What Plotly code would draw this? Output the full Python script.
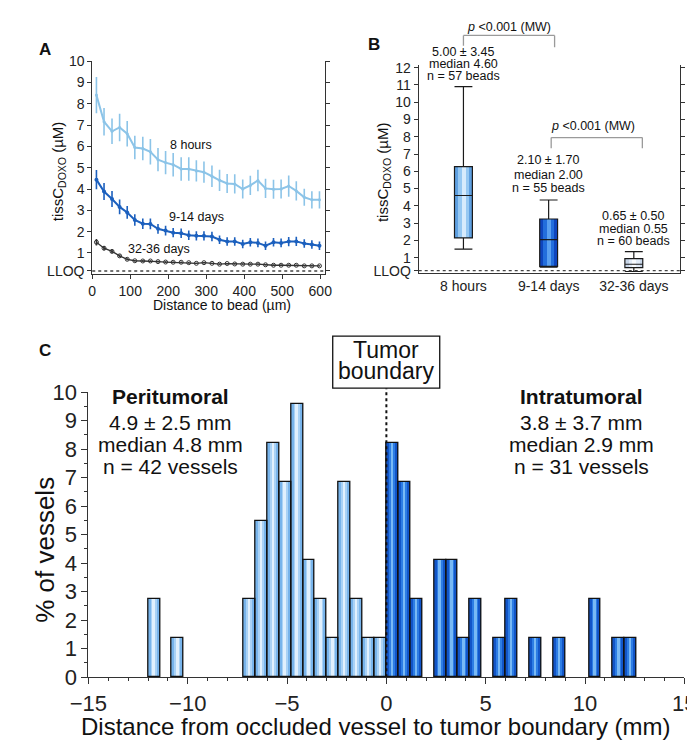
import plotly.graph_objects as go

W, H = 695, 745
FONT = "Liberation Sans, Arial, Helvetica, sans-serif"

# ---------------- Panel A data ----------------
dist_um = [11, 31, 52, 72, 92, 112, 133, 153, 173, 193, 213, 234, 254, 274, 294,
           315, 335, 355, 375, 396, 416, 436, 456, 477, 497, 517, 537, 558, 578, 598]
conc_8h = [8.41, 7.16, 6.71, 6.89, 6.6, 5.95, 5.9, 5.75, 5.38, 5.24, 5.14, 4.94, 4.94, 4.85, 4.79,
           4.6, 4.41, 4.26, 4.24, 4.0, 4.17, 4.4, 4.03, 3.99, 4.0, 4.14, 3.91, 3.61, 3.49, 3.49]
err_8h = [0.85, 0.65, 0.6, 0.65, 0.6, 0.55, 0.55, 0.6, 0.55, 0.55, 0.55, 0.55, 0.55, 0.5, 0.5,
          0.5, 0.5, 0.45, 0.45, 0.45, 0.45, 0.5, 0.45, 0.45, 0.45, 0.5, 0.45, 0.4, 0.4, 0.4]
conc_9_14d = [4.44, 3.88, 3.53, 3.16, 2.9, 2.55, 2.37, 2.36, 2.13, 2.05, 1.95, 1.92, 1.83, 1.8, 1.8,
              1.77, 1.62, 1.54, 1.54, 1.42, 1.5, 1.47, 1.34, 1.5, 1.47, 1.53, 1.54, 1.44, 1.39, 1.34]
err_9_14d = [0.45, 0.4, 0.38, 0.35, 0.3, 0.27, 0.25, 0.25, 0.23, 0.23, 0.22, 0.22, 0.22, 0.22, 0.22,
             0.22, 0.2, 0.2, 0.2, 0.2, 0.2, 0.2, 0.2, 0.2, 0.2, 0.22, 0.22, 0.2, 0.2, 0.2]
conc_32_36d = [1.5, 1.22, 1.07, 0.86, 0.7, 0.63, 0.62, 0.62, 0.59, 0.57, 0.56, 0.56, 0.54, 0.51, 0.54,
               0.51, 0.47, 0.5, 0.48, 0.47, 0.47, 0.47, 0.44, 0.42, 0.42, 0.42, 0.42, 0.39, 0.39, 0.39]
err_32_36d = [0.15, 0.1, 0.08, 0.06, 0.05, 0.04, 0.04, 0.04, 0.04, 0.04, 0.03, 0.03, 0.03, 0.03, 0.03,
              0.03, 0.03, 0.03, 0.03, 0.03, 0.03, 0.03, 0.03, 0.03, 0.03, 0.03, 0.03, 0.03, 0.03, 0.03]
series_a_labels = ["8 hours", "9-14 days", "32-36 days"]
lloq_a = 0.15

# ---------------- Panel B data ----------------
groups = ["8 hours", "9-14 days", "32-36 days"]
box_lower = [1.5, 0.45, 0.2]
box_q1 = [2.15, 0.5, 0.42]
box_median = [4.6, 2.05, 0.62]
box_q3 = [6.27, 3.24, 0.95]
box_upper = [10.9, 4.34, 1.35]
box_stats = [["5.00 ± 3.45", "median 4.60", "n = 57 beads"],
             ["2.10 ± 1.70", "median 2.00", "n = 55 beads"],
             ["0.65 ± 0.50", "median 0.55", "n = 60 beads"]]
p_label = "<i>p</i> &lt;0.001 (MW)"
lloq_b = 0.25

# ---------------- Panel C data ----------------
bin_width_mm = 0.6
peri_centers = [-11.7, -10.5, -6.9, -6.3, -5.7, -5.1, -4.5, -3.9, -3.3, -2.7, -2.1, -1.5, -0.9, -0.3]
peri_pct = [2.74, 1.37, 2.74, 5.48, 8.22, 6.85, 9.59, 4.11, 2.74, 1.37, 6.85, 2.74, 1.37, 1.37]
intra_centers = [0.3, 0.9, 1.5, 2.7, 3.3, 3.9, 4.5, 5.7, 6.3, 7.5, 8.7, 10.5, 11.7, 12.3]
intra_pct = [8.22, 6.85, 2.74, 4.11, 4.11, 1.37, 2.74, 1.37, 2.74, 1.37, 1.37, 2.74, 1.37, 1.37]
peri_text = ["<b>Peritumoral</b>", "4.9 ± 2.5 mm", "median 4.8 mm", "n = 42 vessels"]
intra_text = ["<b>Intratumoral</b>", "3.8 ± 3.7 mm", "median 2.9 mm", "n = 31 vessels"]


def px(p):
    return p / W


def py(p):
    return 1 - p / H


fig = go.Figure()

# ----- Panel A traces -----
a_styles = [
    dict(color="rgb(140,196,232)", lw=2, msize=3, sym="circle"),
    dict(color="rgb(28,96,190)", lw=2, msize=4, sym="circle"),
    dict(color="rgb(50,50,50)", lw=1.3, msize=4, sym="circle-open"),
]
for y, e, st, name in zip([conc_8h, conc_9_14d, conc_32_36d], [err_8h, err_9_14d, err_32_36d],
                          a_styles, series_a_labels):
    fig.add_trace(go.Scatter(
        x=dist_um, y=y, name=name, mode="lines+markers", xaxis="x", yaxis="y",
        line=dict(color=st["color"], width=st["lw"]),
        marker=dict(color=st["color"], size=st["msize"], symbol=st["sym"]),
        error_y=dict(type="data", array=e, color=st["color"], thickness=1.6, width=0),
        showlegend=False))

# ----- Panel B traces (gradient boxes via stripes, then box outline) -----
box_h = [q3 - q1 for q1, q3 in zip(box_q1, box_q3)]
stripe_sets = [
    (0.21, ["rgb(95,160,225)", "rgb(15,70,190)", "rgb(200,214,232)"]),
    (0.13, ["rgb(150,200,242)", "rgb(35,110,220)", "rgb(225,235,248)"]),
    (0.05, ["rgb(215,235,252)", "rgb(90,160,240)", "rgb(248,251,255)"]),
]
for wdt, cols in stripe_sets:
    fig.add_trace(go.Bar(x=groups, y=box_h, base=box_q1, width=wdt, xaxis="x2", yaxis="y2",
                         marker=dict(color=cols, line=dict(width=0)), showlegend=False,
                         hoverinfo="skip"))
fig.add_trace(go.Box(x=groups, q1=box_q1, median=box_median, q3=box_q3,
                     lowerfence=box_lower, upperfence=box_upper, width=0.21, whiskerwidth=1,
                     fillcolor="rgba(0,0,0,0)", line=dict(color="#1a1a1a", width=1.2),
                     boxpoints=False, xaxis="x2", yaxis="y2", showlegend=False))

# ----- Panel C traces -----
hist_sets = [
    (peri_centers, peri_pct, ["rgb(120,180,235)", "rgb(170,210,245)", "rgb(225,240,253)"]),
    (intra_centers, intra_pct, ["rgb(18,85,200)", "rgb(45,125,228)", "rgb(120,185,245)"]),
]
for xs, ys, cols in hist_sets:
    for frac, col in zip([1.0, 0.5, 0.2], cols):
        fig.add_trace(go.Bar(x=xs, y=ys, width=bin_width_mm * frac, xaxis="x3", yaxis="y3",
                             marker=dict(color=col, line=dict(width=0)), showlegend=False,
                             hoverinfo="skip"))
    fig.add_trace(go.Bar(x=xs, y=ys, width=bin_width_mm, xaxis="x3", yaxis="y3",
                         marker=dict(color="rgba(0,0,0,0)", line=dict(color="#111", width=1.3)),
                         showlegend=False))

# ----- Axes -----
axis_common = dict(showline=True, linecolor="#333", linewidth=1, showgrid=False, zeroline=False,
                   ticks="outside", tickcolor="#333")
fig.update_layout(
    xaxis=dict(domain=[px(68.3), px(311.7)], range=[0, 612], anchor="y",
               tickvals=[0, 100, 200, 300, 400, 500, 600], ticklen=4,
               tickfont=dict(size=14, color="#222"), **axis_common),
    yaxis=dict(domain=[py(263), py(42.7)], range=[0, 10], anchor="x", mirror="ticks",
               tickvals=[lloq_a] + list(range(1, 11)),
               ticktext=["LLOQ"] + [str(v) for v in range(1, 11)], ticklen=4,
               tickfont=dict(size=14, color="#222"), **axis_common),
    xaxis2=dict(domain=[px(410), px(683.3)], range=[-0.525, 2.54], anchor="y2", type="category",
                showline=True, linecolor="#333", linewidth=1, showgrid=False, zeroline=False,
                ticks="", tickfont=dict(size=14, color="#222")),
    yaxis2=dict(domain=[py(262), py(46.7)], range=[0.1, 12.15], anchor="x2", mirror="ticks",
                tickvals=[lloq_b] + list(range(1, 13)),
                ticktext=["LLOQ"] + [str(v) for v in range(1, 13)], ticklen=4,
                tickfont=dict(size=14, color="#222"), **axis_common),
    xaxis3=dict(domain=[px(64.3), px(688)], range=[-15, 15], anchor="y3", dtick=5, ticklen=6,
                minor=dict(dtick=1, ticklen=3, ticks="outside", tickcolor="#333"),
                tickfont=dict(size=22, color="#222"), **axis_common),
    yaxis3=dict(domain=[py(680), py(385)], range=[0, 10], anchor="x3", dtick=1, ticklen=6,
                minor=dict(dtick=0.5, ticklen=3, ticks="outside", tickcolor="#333"),
                tickfont=dict(size=22, color="#222"), **axis_common),
)

shapes = []
# LLOQ lines
shapes.append(dict(type="line", xref="x domain", yref="y", x0=0, x1=1, y0=lloq_a, y1=lloq_a,
                   line=dict(color="#444", width=1.4, dash="dot")))
shapes.append(dict(type="line", xref="x2 domain", yref="y2", x0=0, x1=1, y0=lloq_b, y1=lloq_b,
                   line=dict(color="#444", width=1.4, dash="dot")))
# p-value brackets (panel B)
brk = dict(color="#9a9a9a", width=1.3)
shapes += [
    dict(type="line", xref="x2", yref="paper", x0=0, x1=1.07, y0=py(16), y1=py(16), line=brk),
    dict(type="line", xref="x2", yref="paper", x0=0, x1=0, y0=py(16), y1=py(26.7), line=brk),
    dict(type="line", xref="x2", yref="paper", x0=1.07, x1=1.07, y0=py(16), y1=py(28.3), line=brk),
    dict(type="line", xref="x2", yref="paper", x0=1.03, x1=2.1, y0=py(121.7), y1=py(121.7), line=brk),
    dict(type="line", xref="x2", yref="paper", x0=1.03, x1=1.03, y0=py(121.7), y1=py(132.7), line=brk),
    dict(type="line", xref="x2", yref="paper", x0=2.1, x1=2.1, y0=py(121.7), y1=py(132.7), line=brk),
]
# tumor boundary
shapes.append(dict(type="line", xref="x3", yref="paper", x0=0, x1=0, y0=py(680), y1=py(381),
                   line=dict(color="#111", width=2, dash="dot")))
shapes.append(dict(type="rect", xref="paper", yref="paper", x0=px(320), x1=px(432),
                   y0=py(381), y1=py(327), line=dict(color="#111", width=1.3),
                   fillcolor="white"))
fig.update_layout(shapes=shapes)

ann = []


def add_text(text, x, y, size, xref="paper", yref="paper", angle=0, bold=False, color="#111"):
    ann.append(dict(text=f"<b>{text}</b>" if bold else text, x=x, y=y, xref=xref, yref=yref,
                    showarrow=False, textangle=angle, xanchor="center", yanchor="middle",
                    font=dict(size=size, color=color, family=FONT)))


# panel letters
add_text("A", px(19), py(31), 17, bold=True)
add_text("B", px(363), py(25), 17, bold=True)
add_text("C", px(19), py(342), 17, bold=True)

# Panel A titles and labels
add_text("tissC<sub>DOXO</sub> (µM)", px(33), py(157), 15, angle=-90)
add_text("Distance to bead (µm)", px(204), py(295), 14)
add_text(series_a_labels[0], 260, 6.06, 12.5, xref="x", yref="y")
add_text(series_a_labels[1], 275, 2.67, 12.5, xref="x", yref="y")
add_text(series_a_labels[2], 175, 1.16, 12.5, xref="x", yref="y")

# Panel B titles and labels
add_text("tissC<sub>DOXO</sub> (µM)", px(373), py(157), 15, angle=-90)
stat_rows = [[33.3, 46, 58.3], [145, 160, 174], [203.3, 216, 228.3]]
for g, lines, rows in zip(groups, box_stats, stat_rows):
    for line, row in zip(lines, rows):
        add_text(line, g, py(row), 12.5, xref="x2")
add_text(p_label, 0.53, py(7.3), 12.5, xref="x2")
add_text(p_label, 1.52, py(109.3), 12.5, xref="x2")

# Panel C titles and labels
add_text("% of vessels", px(18), py(548), 26, angle=-90)
add_text("Distance from occluded vessel to tumor boundary (mm)", px(365), py(731), 24)
add_text("Tumor", px(376), py(341.7), 23)
add_text("boundary", px(376), py(363), 23)
for line, row in zip(peri_text, [390, 416.7, 439.3, 462.3]):
    add_text(line, px(150), py(row), 21)
for line, row in zip(intra_text, [390, 416.7, 439.3, 462.3]):
    add_text(line, px(580), py(row), 21)

fig.update_layout(
    annotations=ann,
    width=W, height=H, autosize=False,
    margin=dict(l=0, r=0, t=0, b=0),
    paper_bgcolor="white", plot_bgcolor="white",
    barmode="overlay", bargap=0,
    font=dict(family=FONT, color="#111"),
    showlegend=False,
)

fig.write_html("out.html")
